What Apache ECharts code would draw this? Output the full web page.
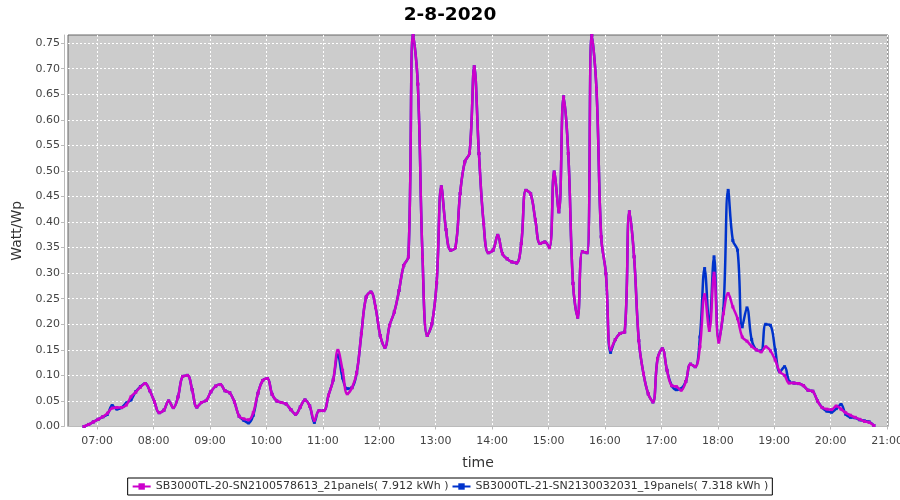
<!DOCTYPE html>
<html><head><meta charset="utf-8">
<script src="https://cdn.jsdelivr.net/npm/echarts@6/dist/echarts.min.js"></script>
<style>html,body{margin:0;padding:0;background:#fff}#c{width:900px;height:500px}</style>
</head><body><div id="c"></div>
<script>
const chartTitle = '2-8-2020';
const yAxisName = 'Watt/Wp';
const xAxisName = 'time';
const seriesNames = [
  'SB3000TL-20-SN2100578613_21panels( 7.912 kWh )',
  'SB3000TL-21-SN2130032031_19panels( 7.318 kWh )'
];
const firstSample = '06:46';
const sampleStepMinutes = 5;
const xRange = ['06:29', '21:01'];
const yMax = 0.766;
const xTickLabels = ['07:00','08:00','09:00','10:00','11:00','12:00','13:00','14:00','15:00','16:00','17:00','18:00','19:00','20:00','21:00'];
const yTickLabels = ['0.00','0.05','0.10','0.15','0.20','0.25','0.30','0.35','0.40','0.45','0.50','0.55','0.60','0.65','0.70','0.75'];

// SB3000TL-20 (magenta)
const inverter20 = [
  0.000,0.004,0.009,0.014,
  0.019,0.026,0.036,0.037,0.037,0.042,0.058,0.067,0.077,0.084,0.070,0.048,
  0.027,0.032,0.050,0.037,0.058,0.098,0.100,0.072,0.038,0.047,0.051,0.068,
  0.079,0.082,0.070,0.066,0.048,0.020,0.015,0.013,0.027,0.065,0.090,0.094,
  0.063,0.050,0.047,0.044,0.033,0.024,0.038,0.052,0.040,0.012,0.031,0.031,
  0.061,0.091,0.149,0.110,0.064,0.076,0.105,0.182,0.253,0.263,0.234,0.178,
  0.155,0.198,0.224,0.266,0.315,0.332,0.765,0.670,0.332,0.178,0.201,0.281,
  0.469,0.385,0.345,0.350,0.456,0.518,0.535,0.704,0.534,0.397,0.340,0.345,
  0.374,0.338,0.328,0.322,0.320,0.358,0.462,0.455,0.404,0.358,0.361,0.350,
  0.498,0.420,0.645,0.534,0.280,0.214,0.342,0.340,0.765,0.660,0.371,0.299,
  0.150,0.170,0.182,0.185,0.420,0.332,0.168,0.103,0.064,0.048,0.133,0.152,
  0.110,0.080,0.078,0.071,0.088,0.122,0.117,0.156,0.258,0.188,0.300,0.165,
  0.221,0.260,0.234,0.211,0.175,0.167,0.157,0.150,0.146,0.156,0.148,0.130,
  0.107,0.100,0.085,0.085,0.084,0.080,0.071,0.069,0.050,0.037,0.034,0.033,
  0.040,0.034,0.027,0.022,0.018,0.014,0.010,0.008,0.002
];
// SB3000TL-21 (blue)
const inverter21 = [
  0.000,0.004,0.009,0.014,
  0.019,0.024,0.041,0.034,0.037,0.046,0.052,0.068,0.078,0.084,0.070,0.048,
  0.027,0.032,0.050,0.037,0.058,0.098,0.100,0.072,0.038,0.047,0.051,0.068,
  0.079,0.082,0.070,0.066,0.048,0.020,0.012,0.007,0.022,0.065,0.090,0.094,
  0.063,0.050,0.047,0.044,0.033,0.024,0.038,0.052,0.040,0.008,0.031,0.031,
  0.061,0.091,0.140,0.095,0.074,0.076,0.105,0.182,0.253,0.263,0.234,0.178,
  0.155,0.198,0.224,0.266,0.315,0.332,0.765,0.670,0.332,0.178,0.201,0.281,
  0.469,0.385,0.345,0.350,0.456,0.518,0.535,0.704,0.534,0.397,0.340,0.345,
  0.374,0.338,0.328,0.322,0.320,0.358,0.462,0.455,0.404,0.358,0.361,0.350,
  0.498,0.420,0.645,0.534,0.280,0.214,0.342,0.340,0.765,0.660,0.371,0.299,
  0.145,0.170,0.182,0.185,0.420,0.332,0.168,0.103,0.064,0.048,0.133,0.152,
  0.110,0.080,0.072,0.074,0.088,0.122,0.117,0.175,0.309,0.198,0.332,0.170,
  0.230,0.462,0.364,0.345,0.195,0.232,0.170,0.150,0.148,0.200,0.198,0.150,
  0.107,0.117,0.088,0.085,0.084,0.080,0.071,0.069,0.050,0.037,0.030,0.028,
  0.035,0.043,0.024,0.018,0.017,0.013,0.011,0.009,0.002
];

const toMin = s => { const [h, m] = s.split(':').map(Number); return h * 60 + m; };
const pad = n => (n < 10 ? '0' : '') + n;
const fmtMin = v => pad(Math.floor(v / 60)) + ':' + pad(Math.round(v % 60));
const t0 = toMin(firstSample);
const pairs = arr => arr.map((v, i) => [t0 + i * sampleStepMinutes, v]);
const xTicks = xTickLabels.map(toMin);
const yTicks = yTickLabels.map(Number);

const FONT = 'DejaVu Sans';
const colors = { m: '#cc00cc', b: '#0033cc' };

const chart = echarts.init(document.getElementById('c'), null, { renderer: 'canvas' });
chart.setOption({
  animation: false,
  backgroundColor: '#ffffff',
  title: {
    text: chartTitle, left: 'center', top: 1,
    textStyle: { fontFamily: FONT, fontSize: 18.5, fontWeight: 'bold', color: '#000' }
  },
  legend: {
    data: [seriesNames[0], seriesNames[1]],
    left: 'center', top: 478,
    padding: [3, 4], itemGap: 3, itemWidth: 18, itemHeight: 8,
    borderColor: '#000', borderWidth: 1, backgroundColor: '#fff',
    textStyle: { fontFamily: FONT, fontSize: 11, color: '#333' }
  },
  grid: {
    left: 68, right: 12, top: 35, bottom: 73.5,
    outerBoundsMode: 'none', containLabel: false,
    show: true, backgroundColor: '#cccccc', borderColor: '#666', borderWidth: 1
  },
  xAxis: {
    type: 'value', min: toMin(xRange[0]), max: toMin(xRange[1]),
    offset: 4,
    name: xAxisName, nameLocation: 'middle', nameGap: 26,
    nameTextStyle: { fontFamily: FONT, fontSize: 14, color: '#333' },
    axisLine: { show: true, lineStyle: { color: '#bbb', width: 1 } },
    axisTick: { show: true, length: 3, customValues: xTicks, lineStyle: { color: '#bbb' } },
    axisLabel: { customValues: xTicks, formatter: v => fmtMin(v), fontFamily: FONT, fontSize: 11, color: '#444', margin: 5 },
    splitLine: { show: true, lineStyle: { color: '#ffffff', type: [2, 2], width: 1 } }
  },
  yAxis: {
    type: 'value', min: 0, max: yMax,
    offset: 4,
    name: yAxisName, nameLocation: 'middle', nameGap: 36, nameRotate: 90,
    nameTextStyle: { fontFamily: FONT, fontSize: 14, color: '#333' },
    axisLine: { show: true, lineStyle: { color: '#bbb', width: 1 } },
    axisTick: { show: true, length: 3, customValues: yTicks, lineStyle: { color: '#bbb' } },
    axisLabel: { customValues: yTicks, formatter: v => v.toFixed(2), fontFamily: FONT, fontSize: 11, color: '#444', margin: 4 },
    splitLine: { show: true, lineStyle: { color: '#ffffff', type: [2, 2], width: 1 } }
  },
  series: [
    {
      name: seriesNames[1], type: 'line', data: pairs(inverter21), smooth: 0.4,
      symbol: 'rect', symbolSize: 3, showSymbol: true,
      lineStyle: { color: colors.b, width: 2.5 }, itemStyle: { color: colors.b }, z: 2
    },
    {
      name: seriesNames[0], type: 'line', data: pairs(inverter20), smooth: 0.4,
      symbol: 'rect', symbolSize: 3, showSymbol: true,
      lineStyle: { color: colors.m, width: 2.5 }, itemStyle: { color: colors.m }, z: 3
    }
  ]
});
</script>
</body></html>
